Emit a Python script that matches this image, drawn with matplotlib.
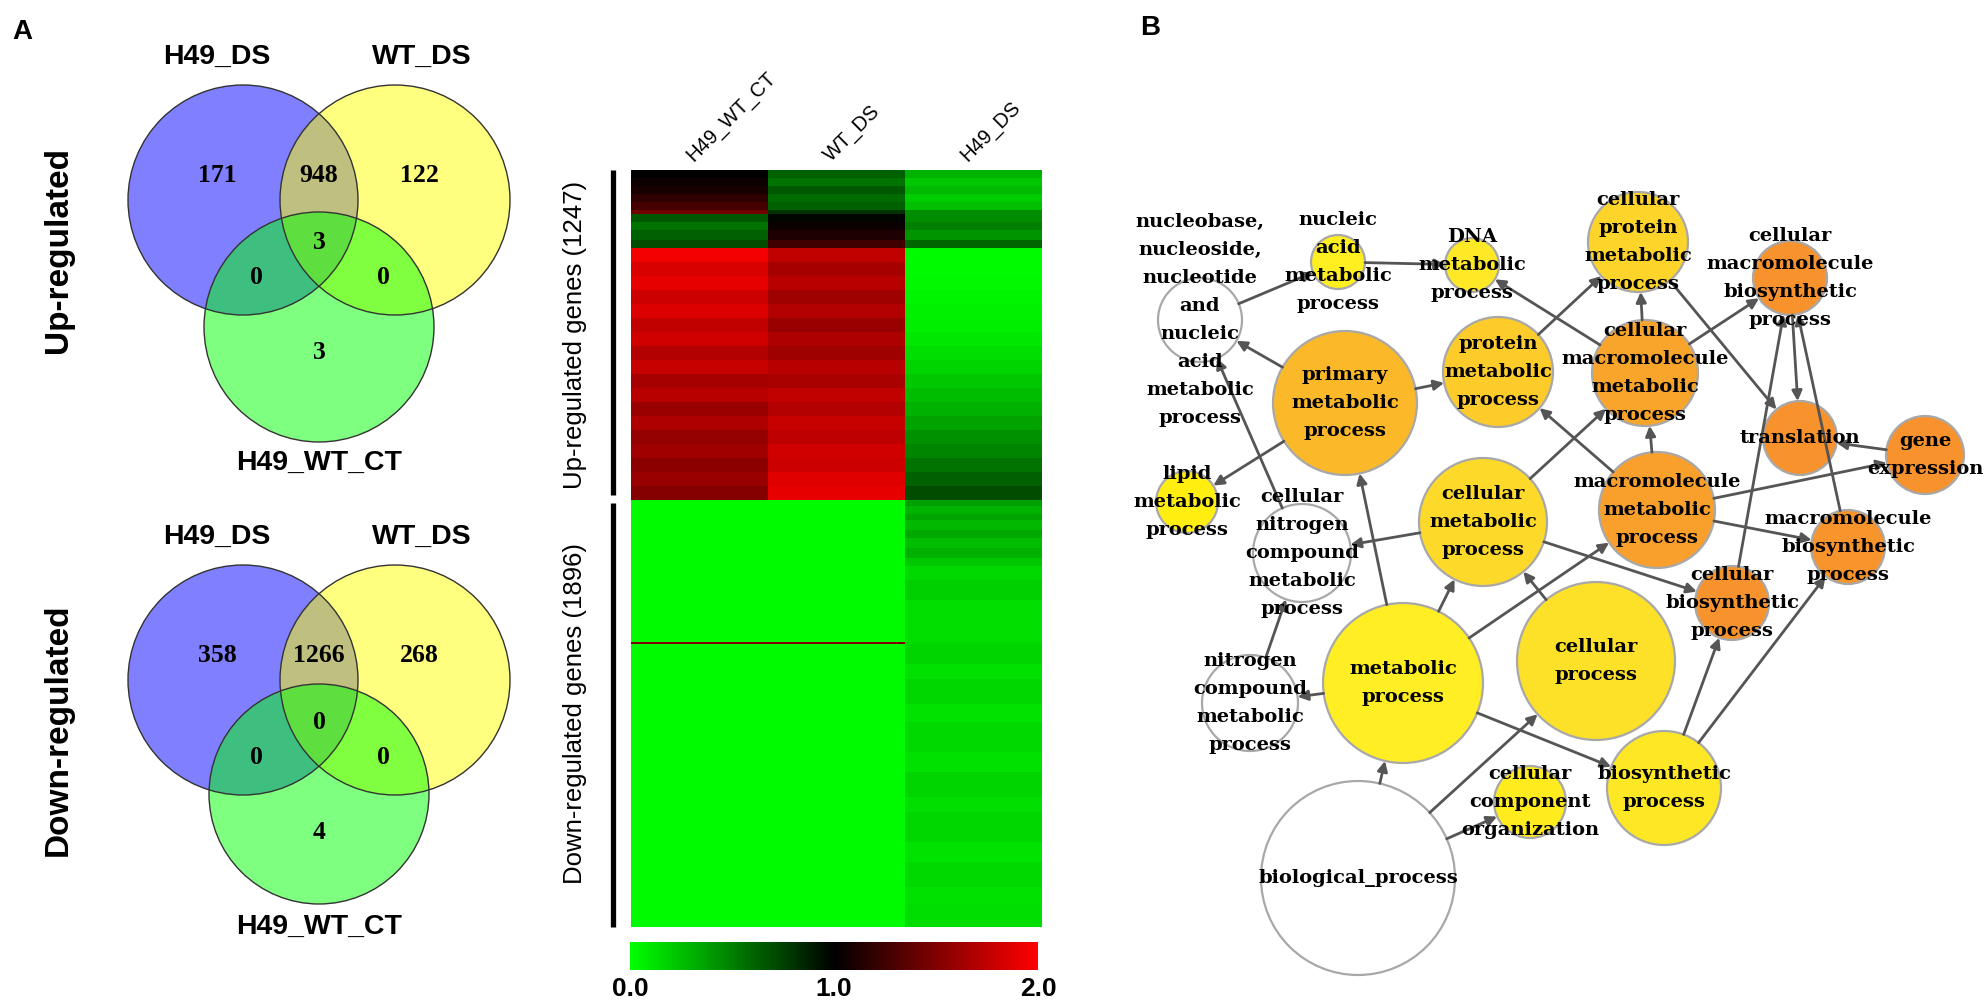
import numpy as np
import matplotlib.pyplot as plt
from matplotlib.patches import Circle, FancyArrowPatch
from matplotlib.colors import LinearSegmentedColormap

W, H = 1987, 1005

# ---------------- data ----------------
# Venn region order: only A, only B, A&B, A&B&C, A&C, B&C, only C
venn_names = ['H49_DS', 'WT_DS', 'H49_WT_CT']
up_counts = [171, 122, 948, 3, 0, 0, 3]
down_counts = [358, 268, 1266, 0, 0, 0, 4]

# heatmap: genes per band (top to bottom) and ratio per column
heat_cols = ['H49_WT_CT', 'WT_DS', 'H49_DS']
up_genes = [30, 30, 30, 30, 30, 15, 30, 30, 38, 30] + [53] * 18
up_ct = [1.00, 1.05, 1.10, 1.18, 1.28, 1.45, 0.65, 0.55, 0.62, 0.70,
         1.95, 1.85, 1.90, 1.80, 1.86, 1.75, 1.82, 1.70, 1.78, 1.65,
         1.72, 1.60, 1.68, 1.58, 1.63, 1.55, 1.60, 1.52]
up_wt = [0.62, 0.55, 0.65, 0.58, 0.62, 0.80, 0.98, 1.05, 1.12, 1.25,
         1.75, 1.65, 1.72, 1.62, 1.70, 1.60, 1.68, 1.62, 1.72, 1.66,
         1.75, 1.70, 1.78, 1.74, 1.82, 1.80, 1.88, 1.90]
up_h49 = [0.30, 0.22, 0.28, 0.20, 0.25, 0.45, 0.45, 0.50, 0.42, 0.60,
          0.02, 0.02, 0.03, 0.04, 0.06, 0.07, 0.10, 0.14, 0.17, 0.22,
          0.26, 0.31, 0.36, 0.43, 0.48, 0.55, 0.62, 0.70]
down_genes = [27, 36, 27, 44, 36, 44, 44, 36, 62, 89, 186, 9,
              89, 67, 111, 80, 133, 89, 111, 67, 133, 89, 111, 80, 96]
down_ct = [0.02] * 11 + [1.5] + [0.02] * 13
down_wt = [0.02] * 11 + [1.5] + [0.02] * 13
down_h49 = [0.38, 0.30, 0.36, 0.28, 0.34, 0.26, 0.31, 0.22, 0.15, 0.19, 0.13, 0.15,
            0.17, 0.12, 0.16, 0.11, 0.15, 0.12, 0.17, 0.13, 0.16, 0.11, 0.15, 0.12, 0.14]
cbar_ticks = [0.0, 1.0, 2.0]

# GO network
go_labels = {
    'bp': 'biological_process',
    'mp': 'metabolic\nprocess',
    'cp': 'cellular\nprocess',
    'bsp': 'biosynthetic\nprocess',
    'cco': 'cellular\ncomponent\norganization',
    'ncm': 'nitrogen\ncompound\nmetabolic\nprocess',
    'cncm': 'cellular\nnitrogen\ncompound\nmetabolic\nprocess',
    'nuc': 'nucleobase,\nnucleoside,\nnucleotide\nand\nnucleic\nacid\nmetabolic\nprocess',
    'cmp': 'cellular\nmetabolic\nprocess',
    'pmp': 'primary\nmetabolic\nprocess',
    'lmp': 'lipid\nmetabolic\nprocess',
    'namp': 'nucleic\nacid\nmetabolic\nprocess',
    'dna': 'DNA\nmetabolic\nprocess',
    'prot': 'protein\nmetabolic\nprocess',
    'cprot': 'cellular\nprotein\nmetabolic\nprocess',
    'cmmp': 'cellular\nmacromolecule\nmetabolic\nprocess',
    'mmp': 'macromolecule\nmetabolic\nprocess',
    'cmbp': 'cellular\nmacromolecule\nbiosynthetic\nprocess',
    'mbp': 'macromolecule\nbiosynthetic\nprocess',
    'cbp': 'cellular\nbiosynthetic\nprocess',
    'tr': 'translation',
    'ge': 'gene\nexpression',
}
go_edges = [
    ('bp', 'mp'), ('bp', 'cp'), ('bp', 'cco'),
    ('mp', 'ncm'), ('mp', 'bsp'), ('mp', 'cmp'), ('mp', 'pmp'), ('mp', 'mmp'),
    ('cp', 'cmp'), ('bsp', 'cbp'), ('bsp', 'mbp'),
    ('cmp', 'cncm'), ('cmp', 'cmmp'), ('cmp', 'cbp'),
    ('mmp', 'prot'), ('mmp', 'cmmp'), ('mmp', 'ge'), ('mmp', 'mbp'),
    ('prot', 'cprot'), ('cmmp', 'dna'), ('cmmp', 'cprot'), ('cmmp', 'cmbp'),
    ('cprot', 'tr'), ('cmbp', 'tr'), ('cbp', 'cmbp'), ('mbp', 'cmbp'), ('ge', 'tr'),
    ('pmp', 'prot'), ('pmp', 'nuc'), ('pmp', 'lmp'),
    ('nuc', 'namp'), ('namp', 'dna'), ('cncm', 'nuc'), ('ncm', 'cncm'),
]

# ---------------- layout / style ----------------
node_layout = {  # x, y, radius in pixels
    'bp': (1358, 878, 97), 'mp': (1403, 683, 80), 'cp': (1596, 661, 79),
    'bsp': (1664, 788, 57), 'cco': (1530, 802, 36), 'ncm': (1250, 703, 48),
    'cncm': (1302, 553, 49), 'nuc': (1200, 320, 42), 'cmp': (1483, 522, 64),
    'pmp': (1345, 403, 72), 'lmp': (1187, 502, 31), 'namp': (1338, 262, 27),
    'dna': (1472, 265, 27), 'prot': (1498, 372, 55), 'cprot': (1638, 242, 50),
    'cmmp': (1645, 373, 53), 'mmp': (1657, 510, 58), 'cmbp': (1790, 278, 37),
    'mbp': (1848, 547, 37), 'cbp': (1732, 603, 37), 'tr': (1800, 438, 37),
    'ge': (1925, 455, 39),
}
node_color = {
    'bp': 'white', 'mp': '#FFEE23', 'cp': '#FDE128', 'bsp': '#FEE825',
    'cco': '#FFEB1E', 'ncm': 'white', 'cncm': 'white', 'nuc': 'white',
    'cmp': '#FDDA2A', 'pmp': '#FBB829', 'lmp': '#FFEE10', 'namp': '#FFEE20',
    'dna': '#FFE825', 'prot': '#FDCB2A', 'cprot': '#FDD52A', 'cmmp': '#F9A42A',
    'mmp': '#F9A02C', 'cmbp': '#F7922C', 'mbp': '#F7952C', 'cbp': '#F7932C',
    'tr': '#F7922C', 'ge': '#F7922C',
}

SANS = 'Liberation Sans'
SERIF = 'Liberation Serif'
NETF = 'DejaVu Serif'

fig = plt.figure(figsize=(W / 100, H / 100), dpi=100)
ax = fig.add_axes([0, 0, 1, 1])
ax.set_xlim(0, W)
ax.set_ylim(H, 0)
ax.axis('off')


def fig_rect(x0, y0, x1, y1):
    return [x0 / W, 1 - y1 / H, (x1 - x0) / W, (y1 - y0) / H]


# ---------------- Venn diagrams ----------------
def draw_venn(cy, counts, side_label, green_dy, green_r, bottom_name_dy):
    circles = [(243, cy, 115), (395, cy, 115), (319, cy + green_dy, green_r)]
    for (x, y, r), c in zip(circles, ['blue', 'yellow', 'lime']):
        ax.add_patch(Circle((x, y), r, fc=c, alpha=0.5, ec='none'))
    for (x, y, r) in circles:
        ax.add_patch(Circle((x, y), r, fc='none', ec='#333333', lw=1.0))
    offs = [(-102, -25), (100, -25), (0, -25), (0, 42), (-63, 77), (64, 77), (0, 152)]
    for (dx, dy), n in zip(offs, counts):
        ax.text(319 + dx, cy + dy, str(n), ha='center', va='center',
                fontsize=18.5, fontweight='bold', family=SERIF)
    name_pos = [(217, cy - 143), (422, cy - 143), (319, cy + bottom_name_dy)]
    for (x, y), nm in zip(name_pos, venn_names):
        ax.text(x, y, nm, ha='center', va='center', fontsize=20.5,
                fontweight='bold', family=SANS)
    ax.text(58, cy + 50, side_label, rotation=90, ha='center', va='center',
            fontsize=24, fontweight='bold', family=SANS)


draw_venn(200, up_counts, 'Up-regulated', 127, 115, 263)
draw_venn(680, down_counts, 'Down-regulated', 114, 110, 247)

# ---------------- heatmap ----------------
cmap = LinearSegmentedColormap.from_list('gkr', [(0, 1, 0), (0, 0, 0), (1, 0, 0)])
HX0, HX1, HY0, HMID, HY1 = 631, 1042, 170, 500, 927

ax_up = fig.add_axes(fig_rect(HX0, HY0, HX1, HMID))
up_mat = np.array([up_ct, up_wt, up_h49]).T
ax_up.pcolormesh(np.arange(4), np.concatenate([[0], np.cumsum(up_genes)]), up_mat,
                 cmap=cmap, vmin=0, vmax=2)
ax_up.set_ylim(sum(up_genes), 0)
ax_up.axis('off')

ax_dn = fig.add_axes(fig_rect(HX0, HMID, HX1, HY1))
dn_mat = np.array([down_ct, down_wt, down_h49]).T
mesh = ax_dn.pcolormesh(np.arange(4), np.concatenate([[0], np.cumsum(down_genes)]), dn_mat,
                        cmap=cmap, vmin=0, vmax=2)
ax_dn.set_ylim(sum(down_genes), 0)
ax_dn.axis('off')

# side bars and labels
ax.plot([613, 613], [HY0, HMID - 5], color='black', lw=3.8, solid_capstyle='butt')
ax.plot([613, 613], [HMID + 3, HY1], color='black', lw=3.8, solid_capstyle='butt')
ax.text(575, (HY0 + HMID) / 2, 'Up-regulated genes (%d)' % sum(up_genes), rotation=90,
        ha='center', va='center', fontsize=18.5, family=SANS)
ax.text(575, (HMID + HY1) / 2, 'Down-regulated genes (%d)' % sum(down_genes), rotation=90,
        ha='center', va='center', fontsize=18.5, family=SANS)

colw = (HX1 - HX0) / len(heat_cols)
for i, nm in enumerate(heat_cols):
    ax.text(HX0 + colw * (i + 0.5) - 6, HY0 - 8, nm, rotation=45, rotation_mode='anchor',
            ha='left', va='baseline', fontsize=14.5, family=SANS)

cax = fig.add_axes(fig_rect(630, 942, 1038, 970))
cb = fig.colorbar(mesh, cax=cax, orientation='horizontal')
cb.set_ticks(cbar_ticks)
cb.set_ticklabels(['%.1f' % t for t in cbar_ticks])
cb.outline.set_visible(False)
cax.tick_params(length=0, pad=5)
for lab in cax.get_xticklabels():
    lab.set_fontsize(19)
    lab.set_fontweight('bold')
    lab.set_family(SANS)

# ---------------- GO network ----------------
for k, (x, y, r) in node_layout.items():
    ax.add_patch(Circle((x, y), r, fc=node_color[k], ec='#a8a8a8', lw=1.6, zorder=2))

for s, t in go_edges:
    x1, y1, r1 = node_layout[s]
    x2, y2, r2 = node_layout[t]
    d = np.hypot(x2 - x1, y2 - y1)
    ux, uy = (x2 - x1) / d, (y2 - y1) / d
    arr = FancyArrowPatch((x1 + ux * r1, y1 + uy * r1), (x2 - ux * r2, y2 - uy * r2),
                          arrowstyle='-|>', mutation_scale=15, color='#555555',
                          lw=2.0, shrinkA=0, shrinkB=0, zorder=3)
    ax.add_patch(arr)

for k, (x, y, r) in node_layout.items():
    ax.text(x, y, go_labels[k], ha='center', va='center', multialignment='center',
            fontsize=14, fontweight='bold', family=NETF, linespacing=1.72, zorder=4)

# panel letters
ax.text(22, 32, 'A', ha='center', va='center', fontsize=20, fontweight='bold', family=SANS)
ax.text(1150, 28, 'B', ha='center', va='center', fontsize=20, fontweight='bold', family=SANS)

fig.savefig('out.png', dpi=100)
